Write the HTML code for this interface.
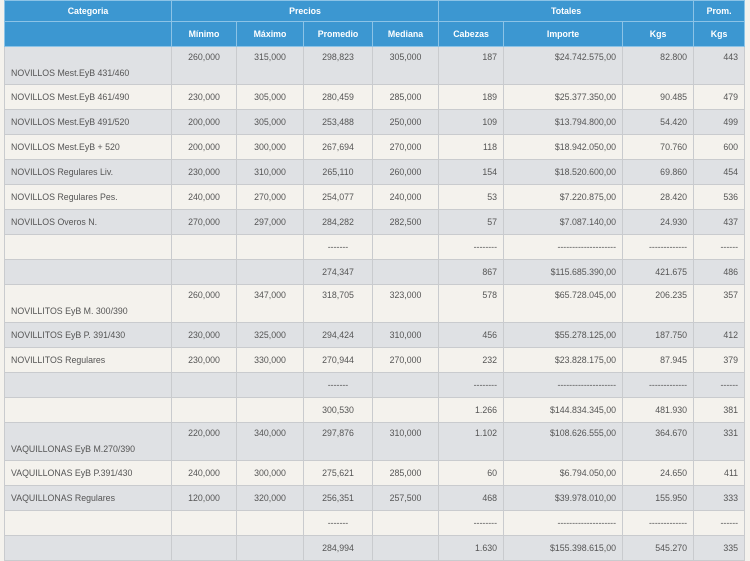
<!DOCTYPE html>
<html><head><meta charset="utf-8"><style>
html,body{margin:0;padding:0;background:#f4f2ed;width:750px;height:552px;overflow:hidden}
table{position:absolute;left:4px;top:0;border-collapse:collapse;table-layout:fixed;width:740px;font-family:"Liberation Sans",sans-serif;font-size:8.8px;color:#555}
td,th{border:1px solid #c9cbce;padding:0 6px;white-space:nowrap;overflow:hidden}
th{background:#3c97d1;color:#fff;font-weight:bold;border-color:#8cc3e6;text-align:center}
tr.h1 th{height:20px}
tr.h2 th{height:24px}
td{height:24px}
tr.g td{background:#dfe1e4}
tr.w td{background:#f4f2ed}
td.c{text-align:center}
td.r{text-align:right}
tr.t td{height:26px;vertical-align:top;padding-top:5px}
tr.t td.cat{vertical-align:bottom;padding-bottom:6px;padding-top:0;height:31px}
</style></head><body>
<table>
<colgroup><col style="width:167px"><col style="width:65px"><col style="width:67px"><col style="width:69px"><col style="width:66px"><col style="width:65px"><col style="width:119px"><col style="width:71px"><col style="width:51px"></colgroup>
<tr class="h1"><th>Categoria</th><th colspan="4">Precios</th><th colspan="3">Totales</th><th>Prom.</th></tr>
<tr class="h2"><th></th><th>Mínimo</th><th>Máximo</th><th>Promedio</th><th>Mediana</th><th>Cabezas</th><th>Importe</th><th>Kgs</th><th>Kgs</th></tr>
<tr class="g t"><td class="cat">NOVILLOS Mest.EyB 431/460</td><td class="c">260,000</td><td class="c">315,000</td><td class="c">298,823</td><td class="c">305,000</td><td class="r">187</td><td class="r">$24.742.575,00</td><td class="r">82.800</td><td class="r">443</td></tr>
<tr class="w"><td>NOVILLOS Mest.EyB 461/490</td><td class="c">230,000</td><td class="c">305,000</td><td class="c">280,459</td><td class="c">285,000</td><td class="r">189</td><td class="r">$25.377.350,00</td><td class="r">90.485</td><td class="r">479</td></tr>
<tr class="g"><td>NOVILLOS Mest.EyB 491/520</td><td class="c">200,000</td><td class="c">305,000</td><td class="c">253,488</td><td class="c">250,000</td><td class="r">109</td><td class="r">$13.794.800,00</td><td class="r">54.420</td><td class="r">499</td></tr>
<tr class="w"><td>NOVILLOS Mest.EyB + 520</td><td class="c">200,000</td><td class="c">300,000</td><td class="c">267,694</td><td class="c">270,000</td><td class="r">118</td><td class="r">$18.942.050,00</td><td class="r">70.760</td><td class="r">600</td></tr>
<tr class="g"><td>NOVILLOS Regulares Liv.</td><td class="c">230,000</td><td class="c">310,000</td><td class="c">265,110</td><td class="c">260,000</td><td class="r">154</td><td class="r">$18.520.600,00</td><td class="r">69.860</td><td class="r">454</td></tr>
<tr class="w"><td>NOVILLOS Regulares Pes.</td><td class="c">240,000</td><td class="c">270,000</td><td class="c">254,077</td><td class="c">240,000</td><td class="r">53</td><td class="r">$7.220.875,00</td><td class="r">28.420</td><td class="r">536</td></tr>
<tr class="g"><td>NOVILLOS Overos N.</td><td class="c">270,000</td><td class="c">297,000</td><td class="c">284,282</td><td class="c">282,500</td><td class="r">57</td><td class="r">$7.087.140,00</td><td class="r">24.930</td><td class="r">437</td></tr>
<tr class="w"><td></td><td></td><td></td><td class="c">-------</td><td></td><td class="r">--------</td><td class="r">--------------------</td><td class="r">-------------</td><td class="r">------</td></tr>
<tr class="g"><td></td><td></td><td></td><td class="c">274,347</td><td></td><td class="r">867</td><td class="r">$115.685.390,00</td><td class="r">421.675</td><td class="r">486</td></tr>
<tr class="w t"><td class="cat">NOVILLITOS EyB M. 300/390</td><td class="c">260,000</td><td class="c">347,000</td><td class="c">318,705</td><td class="c">323,000</td><td class="r">578</td><td class="r">$65.728.045,00</td><td class="r">206.235</td><td class="r">357</td></tr>
<tr class="g"><td>NOVILLITOS EyB P. 391/430</td><td class="c">230,000</td><td class="c">325,000</td><td class="c">294,424</td><td class="c">310,000</td><td class="r">456</td><td class="r">$55.278.125,00</td><td class="r">187.750</td><td class="r">412</td></tr>
<tr class="w"><td>NOVILLITOS Regulares</td><td class="c">230,000</td><td class="c">330,000</td><td class="c">270,944</td><td class="c">270,000</td><td class="r">232</td><td class="r">$23.828.175,00</td><td class="r">87.945</td><td class="r">379</td></tr>
<tr class="g"><td></td><td></td><td></td><td class="c">-------</td><td></td><td class="r">--------</td><td class="r">--------------------</td><td class="r">-------------</td><td class="r">------</td></tr>
<tr class="w"><td></td><td></td><td></td><td class="c">300,530</td><td></td><td class="r">1.266</td><td class="r">$144.834.345,00</td><td class="r">481.930</td><td class="r">381</td></tr>
<tr class="g t"><td class="cat">VAQUILLONAS EyB M.270/390</td><td class="c">220,000</td><td class="c">340,000</td><td class="c">297,876</td><td class="c">310,000</td><td class="r">1.102</td><td class="r">$108.626.555,00</td><td class="r">364.670</td><td class="r">331</td></tr>
<tr class="w"><td>VAQUILLONAS EyB P.391/430</td><td class="c">240,000</td><td class="c">300,000</td><td class="c">275,621</td><td class="c">285,000</td><td class="r">60</td><td class="r">$6.794.050,00</td><td class="r">24.650</td><td class="r">411</td></tr>
<tr class="g"><td>VAQUILLONAS Regulares</td><td class="c">120,000</td><td class="c">320,000</td><td class="c">256,351</td><td class="c">257,500</td><td class="r">468</td><td class="r">$39.978.010,00</td><td class="r">155.950</td><td class="r">333</td></tr>
<tr class="w"><td></td><td></td><td></td><td class="c">-------</td><td></td><td class="r">--------</td><td class="r">--------------------</td><td class="r">-------------</td><td class="r">------</td></tr>
<tr class="g"><td></td><td></td><td></td><td class="c">284,994</td><td></td><td class="r">1.630</td><td class="r">$155.398.615,00</td><td class="r">545.270</td><td class="r">335</td></tr>
</table>
</body></html>
